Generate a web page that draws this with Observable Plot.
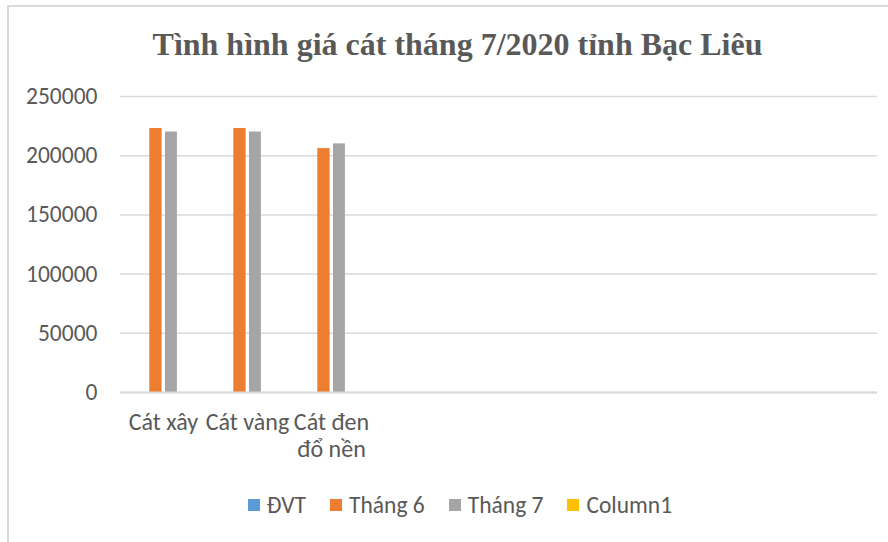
<!DOCTYPE html>
<html>
<head>
<meta charset="utf-8">
<script src="https://cdn.jsdelivr.net/npm/d3@7"></script>
<script src="https://cdn.jsdelivr.net/npm/@observablehq/plot@0.6"></script>
<style>
  body { margin: 0; background: #fff; }
  #wrap { position: relative; width: 888px; height: 542px; overflow: hidden; background: #fff; }
  #frame { position: absolute; left: 7px; top: 5px; width: 920px; height: 620px; border: 2px solid #D9D9D9; box-sizing: border-box; }
  #title { position: absolute; left: 7px; width: 901px; top: 28px; text-align: center; line-height: 1;
           font-family: "Liberation Serif", "Times New Roman", serif; font-weight: bold; font-size: 32px; color: #595959; }
  #chart { position: absolute; left: 0; top: 0; }
  #legend { position: absolute; left: 7px; width: 906px; top: 491px; display: flex; justify-content: center; gap: 24px;
            font-family: Carlito, Calibri, Lato, sans-serif; font-size: 23.5px; color: #595959; }
  .item { display: flex; align-items: center; gap: 7px; }
  .sw { width: 12px; height: 12px; display: inline-block; }
</style>
</head>
<body>
<div id="wrap">
  <div id="frame"></div>
  <div id="title">Tình hình giá cát tháng 7/2020 tỉnh Bạc Liêu</div>
  <div id="chart"></div>
  <div id="legend"></div>
</div>
<script>
// Data
const categories = ["Cát xây", "Cát vàng", "Cát đen đổ nền", "", "", "", "", "", ""];
const tickLabels = ["Cát xây", "Cát vàng", "Cát đen\nđổ nền", "", "", "", "", "", ""];
const seriesNames = ["ĐVT", "Tháng 6", "Tháng 7", "Column1"];
const seriesColors = ["#5B9BD5", "#ED7D31", "#A5A5A5", "#FFC000"];
const thang6 = [223000, 223000, 206000];
const thang7 = [220000, 220000, 210000];
const yTicks = [0, 50000, 100000, 150000, 200000, 250000];

const rows6 = thang6.map((v, i) => ({cat: i, value: v}));
const rows7 = thang7.map((v, i) => ({cat: i, value: v}));

const font = "Carlito, Calibri, Lato, sans-serif";

const chart = Plot.plot({
  width: 888,
  height: 470,
  marginLeft: 120,
  marginRight: 11,
  marginTop: 96,
  marginBottom: 78,
  style: {fontFamily: font, fontSize: "23.5px", color: "#595959", background: "transparent"},
  x: {type: "band", domain: d3.range(categories.length), padding: 0},
  y: {domain: [0, 250000]},
  marks: [
    Plot.gridY(yTicks, {stroke: "#D9D9D9", strokeOpacity: 1, strokeWidth: 1.5}),
    Plot.axisY(yTicks, {tickSize: 0, tickPadding: 23, tickFormat: d => String(d), label: null, fontSize: 23.5}),
    Plot.axisX({tickSize: 0, tickPadding: 19, tickFormat: i => tickLabels[i], label: null, fontSize: 24, lineHeight: 1.1}),
    Plot.barY(rows6, {x: "cat", y: "value", fill: seriesColors[1], insetLeft: 28.3, insetRight: 43.4}),
    Plot.barY(rows7, {x: "cat", y: "value", fill: seriesColors[2], insetLeft: 44, insetRight: 28.1}),
    Plot.ruleY([0], {stroke: "#D9D9D9", strokeWidth: 2})
  ]
});
document.getElementById("chart").appendChild(chart);

const legend = document.getElementById("legend");
seriesNames.forEach((name, i) => {
  const item = document.createElement("span");
  item.className = "item";
  const sw = document.createElement("span");
  sw.className = "sw";
  sw.style.background = seriesColors[i];
  const t = document.createElement("span");
  t.textContent = name;
  item.appendChild(sw);
  item.appendChild(t);
  legend.appendChild(item);
});
</script>
</body>
</html>
